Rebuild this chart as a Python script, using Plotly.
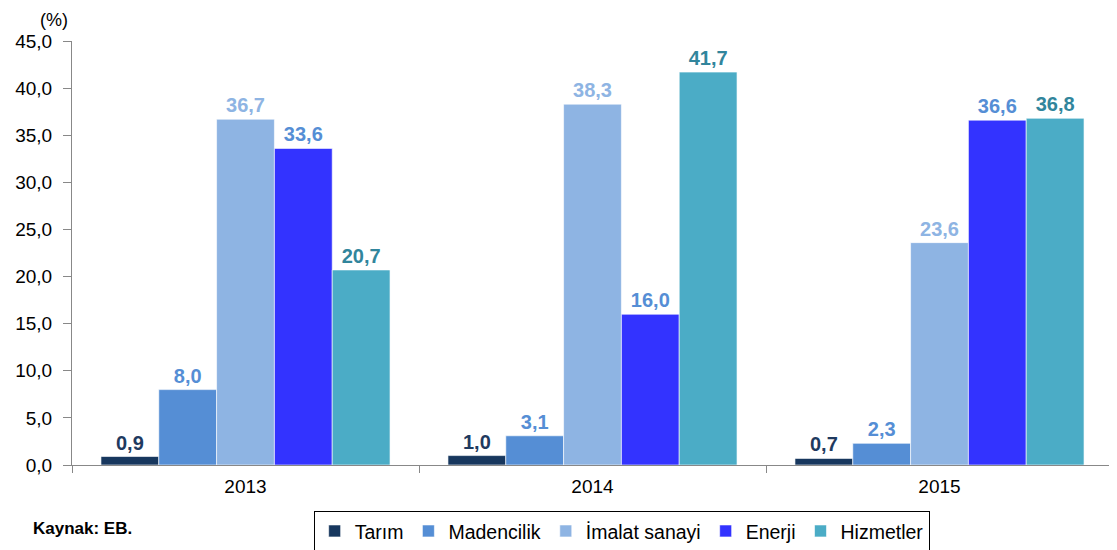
import plotly.graph_objects as go

years = ["2013", "2014", "2015"]
sectors = ["Tarım", "Madencilik", "İmalat sanayi", "Enerji", "Hizmetler"]
values = {
    "Tarım": [0.9, 1.0, 0.7],
    "Madencilik": [8.0, 3.1, 2.3],
    "İmalat sanayi": [36.7, 38.3, 23.6],
    "Enerji": [33.6, 16.0, 36.6],
    "Hizmetler": [20.7, 41.7, 36.8],
}
bar_colors = {
    "Tarım": "#17375E",
    "Madencilik": "#558ED5",
    "İmalat sanayi": "#8EB4E3",
    "Enerji": "#3333FF",
    "Hizmetler": "#4BACC6",
}
label_colors = {
    "Tarım": "#1F3A5F",
    "Madencilik": "#558ED5",
    "İmalat sanayi": "#8EB4E3",
    "Enerji": "#558ED5",
    "Hizmetler": "#31859C",
}

FONT = "Liberation Sans, Arial, sans-serif"

fig = go.Figure()
for s in sectors:
    fig.add_trace(go.Bar(
        name=s, x=years, y=values[s],
        marker=dict(color=bar_colors[s], line=dict(color="rgba(255,255,255,0.6)", width=1)),
        texttemplate="%{y:.1f}", textposition="outside", cliponaxis=False,
        textfont=dict(family=FONT, size=20, color=label_colors[s], weight="bold"),
    ))

fig.update_layout(
    template="none",
    width=1117, height=550,
    barmode="group", bargap=0.167, bargroupgap=0,
    separators=",.",
    plot_bgcolor="white", paper_bgcolor="white",
    margin=dict(l=64, r=12, t=33, b=93, autoexpand=False),
    font=dict(family=FONT, size=19, color="black"),
    showlegend=True,
    legend=dict(orientation="h", xanchor="center", x=0.528, yanchor="top", y=-0.108,
                bordercolor="black", borderwidth=1, font=dict(size=19.5),
                itemwidth=30, traceorder="normal", bgcolor="white"),
    xaxis=dict(type="category", showline=True, linecolor="#888888", linewidth=1,
               ticks="outside", tickson="boundaries", ticklen=7, tickcolor="#888888",
               tickfont=dict(size=19), showgrid=False, automargin=False,
               ticklabelstandoff=4),
    yaxis=dict(range=[0, 45], dtick=5, tickformat=".1f", showline=True,
               linecolor="#888888", linewidth=1, ticks="outside", ticklen=8,
               tickcolor="#888888", showgrid=False, zeroline=False,
               tickfont=dict(size=19), automargin=False, ticklabelstandoff=7),
    annotations=[
        dict(text="(%)", xref="paper", yref="paper", x=-0.0173, y=1.0775,
             xanchor="center", yanchor="top", showarrow=False, font=dict(size=18)),
        dict(text="<b>Kaynak: EB.</b>", xref="paper", yref="paper", x=-0.039, y=-0.149,
             xanchor="left", yanchor="middle", showarrow=False, font=dict(size=17)),
    ],
)
fig.write_html("out.html")
